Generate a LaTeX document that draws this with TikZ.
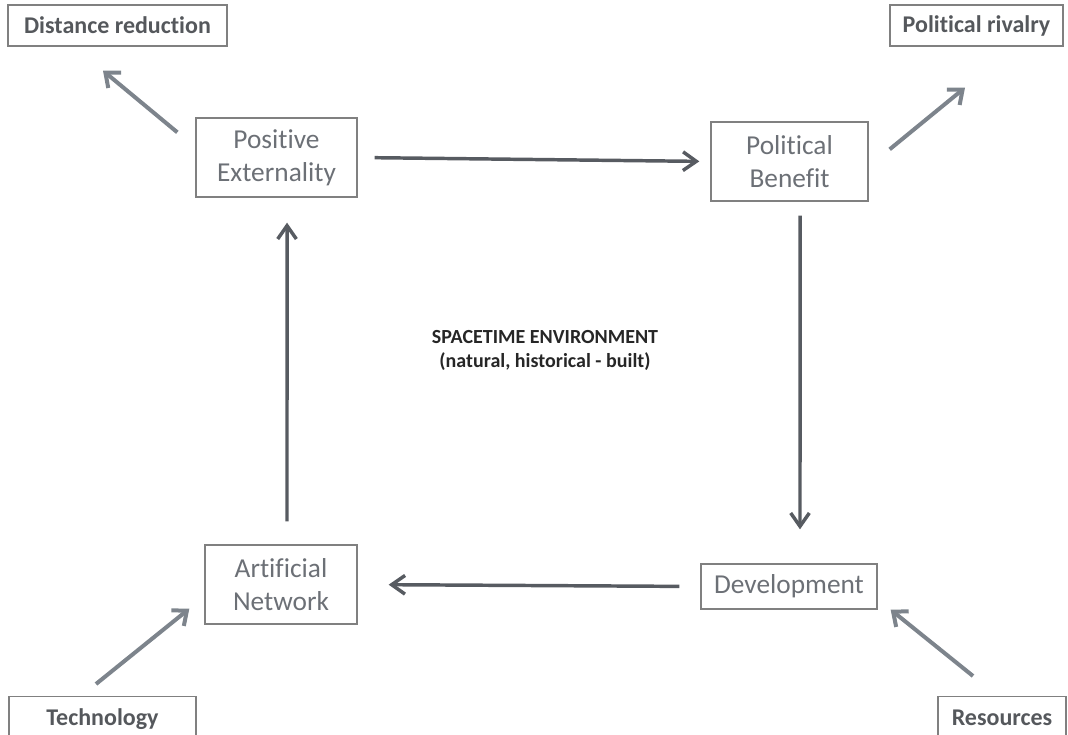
\documentclass[tikz,border=0pt]{standalone}
\usepackage{fontspec}
\setmainfont{Carlito}[Ligatures=NoCommon]
\usepackage{tikz}
\usetikzlibrary{positioning,arrows.meta,calc}
\definecolor{boxline}{RGB}{128,128,128}
\definecolor{boxtext}{RGB}{108,112,118}
\definecolor{labeltext}{RGB}{85,88,92}
\definecolor{mainarrow}{RGB}{87,91,97}
\definecolor{sidearrow}{RGB}{125,132,140}
\tikzset{
  stagebox/.style={draw=boxline, line width=1pt, text=boxtext, align=center, inner sep=0pt,
    font=\fontsize{20.5}{24.75}\selectfont},
  labelbox/.style={draw=boxline, line width=1pt, text=labeltext, inner sep=0pt,
    font=\fontsize{18}{21}\selectfont\bfseries},
  mainflow/.style={draw=mainarrow, line width=2.6pt, -{Straight Barb[length=10pt,width=14pt]}},
  sideflow/.style={draw=sidearrow, line width=3pt, -{Straight Barb[length=9pt,width=15pt]}}
}
\begin{document}
\begin{tikzpicture}[x=0.75pt,y=0.75pt,yscale=-1,xscale=1]
        \useasboundingbox (0,0) rectangle (1068,735);
        %Shape: Rectangle [id:posext] 
        \node [stagebox, minimum width=120.75pt, minimum height=59.25pt] (posext) at (276.5,157.5) {Positive\\Externality};
        %Shape: Rectangle [id:polben] 
        \node [stagebox, minimum width=117.75pt, minimum height=59.25pt] (polben) at (789.5,161.5) {Political\\Benefit};
        %Shape: Rectangle [id:artnet] 
        \node [stagebox, minimum width=114pt, minimum height=59.25pt] (artnet) at (281,584.5) {Artificial\\Network};
        %Shape: Rectangle [id:devel] 
        \node [stagebox, minimum width=132pt, minimum height=33.75pt] (devel) at (789,586.5) {Development};
        % Text Node
        \node [labelbox, minimum width=164.25pt, minimum height=30.75pt] (distred) at (117.5,25.5) {Distance reduction};
        % Text Node
        \node [labelbox, minimum width=129.75pt, minimum height=30.75pt] (polriv) at (976.5,25.5) {Political rivalry};
        % Text Node
        \node [labelbox, anchor=north, minimum width=140.25pt, inner ysep=8pt, text height=13.5pt, text depth=20pt] (techno) at (102.5,696) {Technology};
        % Text Node
        \node [labelbox, anchor=north, minimum width=96pt, inner ysep=8pt, text height=13.5pt, text depth=20pt] (resour) at (1002,696) {Resources};
        % Text Node
        \node [align=center, text=black!85, font=\fontsize{15}{18}\selectfont\bfseries] (spacetime) at (545,350) {SPACETIME ENVIRONMENT\\(natural, historical - built)};
        %Straight Lines [id:cycle] 
        \draw [mainflow, shorten <=12.75pt, shorten >=8.25pt] (posext.east) -- (polben.west);
        \draw [mainflow, shorten <=10.5pt, shorten >=25.5pt] ([xshift=7.9pt]polben.south) -- ([xshift=8.25pt]devel.north);
        \draw [mainflow, shorten <=15.75pt, shorten >=23.25pt] (devel.west) -- (artnet.east);
        \draw [mainflow, shorten <=17.25pt, shorten >=18.75pt] ([xshift=4.5pt]artnet.north) -- ([xshift=7.9pt]posext.south);
        %Straight Lines [id:outer] 
        \draw [sideflow] ($(posext.north west)+(-18,15)$) -- ($(distred.south)+(-14.5,24)$);
        \draw [sideflow] ($(polben.north east)+(21,28)$) -- ($(polriv.south)+(-11.5,41)$);
        \draw [sideflow] ($(techno.north)+(-6.5,-12)$) -- ($(artnet.south west)+(-15,-16)$);
        \draw [sideflow] ($(resour.north)+(-29,-20)$) -- ($(devel.south east)+(13,0)$);
\end{tikzpicture}
\end{document}
